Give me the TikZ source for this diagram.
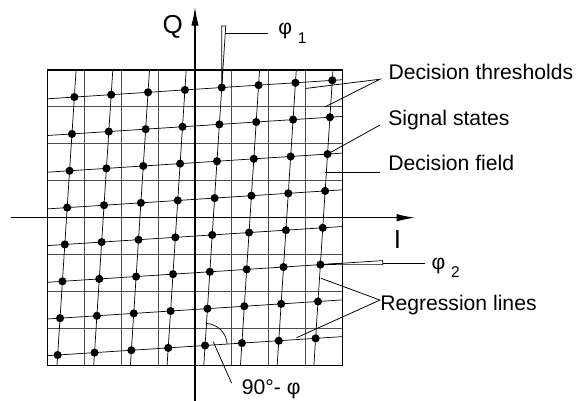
\documentclass[tikz,border=0pt]{standalone}
\usepackage{fontspec}
\setmainfont{Liberation Sans}
\usetikzlibrary{arrows.meta}

\begin{document}
\begin{tikzpicture}[x=1cm, y=1cm,
  font=\fontsize{16.3}{19}\selectfont,
  lbl/.style={inner sep=0pt, anchor=base west},
  axlbl/.style={inner sep=0pt, font=\fontsize{20}{24}\selectfont},
  thresh/.style={black!70, line width=0.75pt},
  regr/.style={black, line width=0.55pt},
  lead/.style={black, line width=0.6pt}]
  \def\ph{3.7}
  \useasboundingbox (-5.28,-4.963) rectangle (10.48,5.895);
  % Decision thresholds: 8 x 8 grid round the origin.
  \draw[thresh] (-4,-4) grid (4,4);
  \draw[line width=0.9pt] (-4,-4) rectangle (4,4);
  % Signal states: s<i><j>, rows turned by phi, columns by -phi.
  % i, j = 1..8 are the states, 0 and 9 only lengthen the lines.
  \foreach \i in {0,...,9}
    \foreach \j in {0,...,9}
      \coordinate (s\i\j) at ({(\i-4.5)*cos(\ph)+(\j-4.5)*sin(\ph)},
                              {(\i-4.5)*sin(\ph)+(\j-4.5)*cos(\ph)});
  % Regression lines, cut at the border.
  \begin{scope}
    \clip (-4,-4) rectangle (4,4);
    \foreach \k in {1,...,8} {
      \draw[regr] (s0\k) -- (s9\k);
      \draw[regr] (s\k0) -- (s\k9);
    }
  \end{scope}
  \foreach \i in {1,...,8}
    \foreach \j in {1,...,8}
      \fill (s\i\j) circle (0.11);
  % Axes.
  \coordinate (iwest) at (-4.99,0);
  \coordinate (ieast) at (5.96,0);
  \coordinate (qsouth) at (0,-4.96);
  \coordinate (qnorth) at (0,5.70);
  \draw[line width=0.9pt, -{Latex[length=5mm, width=2mm]}] (iwest) -- (ieast);
  \draw[line width=0.9pt, -{Latex[length=5mm, width=2mm]}] (qsouth) -- (qnorth);
  \node[axlbl] (qlab) at (-0.6,5.16) {Q};
  \node[axlbl] (ilab) at (5.48,-0.58) {I};
  % phi_1 at the column line, phi_2 at the row line.
  \draw[regr] (s58) -- ++(0,1.665) -- ++({1.665*tan(\ph)},0) -- cycle;
  \draw[regr] (s83) -- ++(1.686,0) -- ++(0,{1.686*tan(\ph)}) -- cycle;
  \node[lbl] (phi1lab) at (2.25,4.97) {φ \raisebox{-6.9pt}{\fontsize{12}{14}\selectfont 1}};
  \node[lbl] (phi2lab) at (6.40,-1.39) {φ \raisebox{-6.9pt}{\fontsize{12}{14}\selectfont 2}};
  \coordinate (phione) at (0.82,4.99);
  \coordinate (phioneend) at (1.98,4.99);
  \coordinate (phitwo) at (5.08,-1.24);
  \coordinate (phitwoend) at (6.23,-1.24);
  \draw[lead] (phione) -- (phioneend);
  \draw[lead] (phitwo) -- (phitwoend);
  % Labels on the right.
  \node[lbl] (thrlab) at (5.235,3.729) {Decision thresholds};
  \node[lbl] (stlab) at (5.23,2.49) {Signal states};
  \node[lbl] (fldlab) at (5.23,1.27) {Decision field};
  \node[lbl] (reglab) at (5.01,-2.50) {Regression lines};
  \node[lbl] (anglab) at (1.265,-4.80) {90°- φ};
  \coordinate (thrhub) at (5.01,3.75);
  \coordinate (thrv) at (3,3.5);
  \coordinate (thrh) at (3.52,3);
  \coordinate (sthub) at (5.01,2.51);
  \coordinate (fldin) at (3.52,1.22);
  \coordinate (fldout) at (5.01,1.22);
  \coordinate (reghub) at (5.01,-2.23);
  \coordinate (regcol) at (3.41,-1.64);
  \coordinate (regrow) at (2.75,-3.25);
  \coordinate (angin) at (0.496,-3.36);
  \coordinate (angout) at (0.99,-4.48);
  \draw[lead] (thrv) -- (thrhub) -- (thrh);
  \draw[lead] (s86) -- (sthub);
  \draw[lead] (fldin) -- (fldout);
  \draw[lead] (regcol) -- (reghub) -- (regrow);
  \draw[lead] (angin) -- (angout);
  % Angle between row and column: 90 - phi.
  \draw[regr] (s51) ++(\ph:0.6) arc[start angle=\ph, end angle=90-\ph, radius=0.6];
\end{tikzpicture}
\end{document}
